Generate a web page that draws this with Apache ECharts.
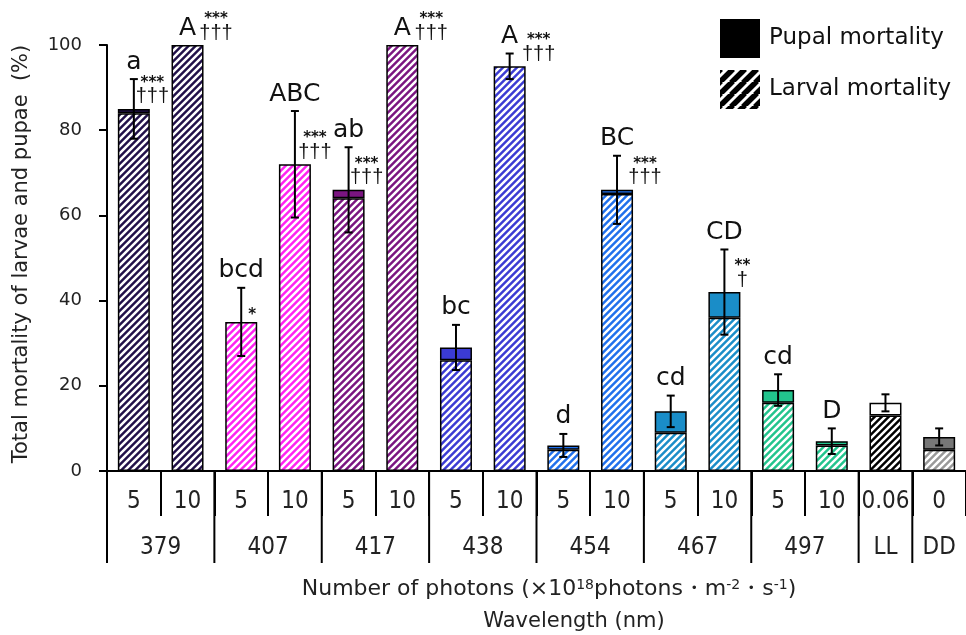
<!DOCTYPE html>
<html><head><meta charset="utf-8">
<script src="https://cdn.jsdelivr.net/npm/echarts@6/dist/echarts.min.js"></script>
<style>html,body{margin:0;padding:0;background:#fff}#c{width:966px;height:635px}</style>
</head><body><div id="c"></div>
<script>
// ---------- data ----------
const doses = ['5','10','5','10','5','10','5','10','5','10','5','10','5','10','0.06','0'];
const wavelengths = ['379','407','417','438','454','467','497','LL','DD'];
const groupSizes = [2,2,2,2,2,2,2,1,1];
const larval = [84, 100, 35, 72, 64, 100, 26, 95, 5, 65, 9, 36, 16, 6, 13, 5];
const pupal  = [1, 0, 0, 0, 2, 0, 3, 0, 1, 1, 5, 6, 3, 1, 3, 3];
const se     = [7, 0, 8, 12.5, 10, 0, 5.3, 3, 2.7, 8, 3.7, 10, 3.7, 3, 2, 2];
const letters = ['a','A','bcd','ABC','ab','A','bc','A','d','BC','cd','CD','cd','D','',''];
const stars   = ['***','***','*','***','***','***','','***','','***','','**','','','',''];
const daggers = ['†††','†††','','†††','†††','†††','','†††','','†††','','†','','','',''];

// ---------- styles ----------
const hatchColors = ['#211049','#211049','#ff22f2','#ff22f2','#7a1580','#7a1580','#3b3bd3','#3b3bd3','#2070ec','#2070ec','#1a8dc8','#1a8dc8','#22c48d','#22c48d','#000000','#999999'];
const pupalColors = ['#211049','#211049','#ff22f2','#ff22f2','#7a1580','#7a1580','#3b3bd3','#3b3bd3','#2070ec','#2070ec','#1a8dc8','#1a8dc8','#22c48d','#22c48d','#ffffff','#777777'];
const sigOffsetX = [18.5, 28.5, 11, 20, 18, 29, 0, 29, 0, 28, 0, 18, 0, 0, 0, 0];
const NARROW = '"Liberation Sans Narrow", "DejaVu Sans Condensed", "Liberation Sans"';

function hatch(bg, fg, size, lw) {
  const c = document.createElement('canvas');
  c.width = size; c.height = size;
  const g = c.getContext('2d');
  g.fillStyle = bg; g.fillRect(0, 0, size, size);
  g.strokeStyle = fg; g.lineWidth = lw;
  g.beginPath();
  for (let k = -1; k <= 1; k++) {
    g.moveTo(k * size - 1, size + 1);
    g.lineTo((k + 1) * size + 1, -1);
  }
  g.stroke();
  return { image: c, repeat: 'repeat' };
}

const totals = larval.map((v, i) => v + pupal[i]);
const groups = [];
{ let s = 0; groupSizes.forEach(n => { groups.push([s, 0, s + n - 1]); s += n; }); }

const chart = echarts.init(document.getElementById('c'), null, { renderer: 'canvas' });

function errRender(params, api) {
  const i = api.value(0), t = api.value(1), s = api.value(2);
  if (!s) return { type: 'group', children: [] };
  const hi = api.coord([i, t + s]), lo = api.coord([i, t - s]);
  const x = hi[0], w = 4;
  const st = { stroke: '#000', lineWidth: 2 };
  return { type: 'group', children: [
    { type: 'line', shape: { x1: x, y1: hi[1], x2: x, y2: lo[1] }, style: st },
    { type: 'line', shape: { x1: x - w, y1: hi[1], x2: x + w, y2: hi[1] }, style: st },
    { type: 'line', shape: { x1: x - w, y1: lo[1], x2: x + w, y2: lo[1] }, style: st }
  ]};
}

function annotRender(params, api) {
  const idx = params.dataIndex;
  const i = api.value(0), t = api.value(1), s = api.value(2);
  const top = api.coord([i, t]), e = api.coord([i, t + s]);
  const ch = [];
  if (letters[idx]) ch.push({ type: 'text', style: { text: letters[idx], x: e[0], y: e[1] - 17, align: 'center', verticalAlign: 'middle', font: '25px "DejaVu Sans"', fill: '#111' } });
  const cx = top[0] + sigOffsetX[idx];
  const starFont = 'bold 15px "DejaVu Sans"';
  if (daggers[idx]) {
    ch.push({ type: 'text', style: { text: daggers[idx], x: cx, y: top[1] - 12, align: 'center', verticalAlign: 'middle', font: '20px "Liberation Sans"', fill: '#111' } });
    if (stars[idx]) ch.push({ type: 'text', style: { text: stars[idx], x: cx, y: top[1] - 26, align: 'center', verticalAlign: 'middle', font: starFont, fill: '#111' } });
  } else if (stars[idx]) {
    ch.push({ type: 'text', style: { text: stars[idx], x: cx, y: top[1] - 7, align: 'center', verticalAlign: 'middle', font: starFont, fill: '#111' } });
  }
  return { type: 'group', children: ch };
}

function tableRender(params, api) {
  const idx = params.dataIndex;
  const s = api.value(0), e = api.value(2);
  const bw = api.size([1, 0])[0];
  const p0 = api.coord([s, 0]), p1 = api.coord([e, 0]);
  const left = p0[0] - bw / 2, right = p1[0] + bw / 2, y0 = p0[1];
  return { type: 'group', children: [
    { type: 'line', shape: { x1: left, y1: y0, x2: left, y2: y0 + 92 }, style: { stroke: '#000', lineWidth: 2 } },
    { type: 'text', style: { text: wavelengths[idx], x: (left + right) / 2, y: y0 + 77, align: 'center', verticalAlign: 'middle', font: '24px ' + NARROW, fill: '#222' } }
  ]};
}

const option = {
  animation: false,
  backgroundColor: '#fff',
  grid: { left: 107, right: 0, top: 45, bottom: 164, containLabel: false },
  legend: {
    data: ['Pupal mortality', 'Larval mortality'],
    orient: 'vertical', left: 720, top: 19, padding: 0,
    itemWidth: 40, itemHeight: 39, itemGap: 12, icon: 'rect',
    selectedMode: false,
    itemStyle: { borderWidth: 0 },
    textStyle: { fontSize: 23, fontFamily: 'DejaVu Sans', color: '#111', padding: [0, 0, 0, 4] }
  },
  xAxis: {
    type: 'category', data: doses,
    axisLine: { show: true, lineStyle: { color: '#000', width: 2 } },
    axisTick: { show: true, interval: 0, length: 45, lineStyle: { color: '#000', width: 2 } },
    axisLabel: { interval: 0, fontSize: 24, fontFamily: NARROW, color: '#222', margin: 19 },
    splitLine: { show: false }
  },
  yAxis: {
    type: 'value', min: 0, max: 100, interval: 20,
    axisLine: { show: true, lineStyle: { color: '#000', width: 2 } },
    axisTick: { show: true, length: 8, lineStyle: { color: '#000', width: 2 } },
    axisLabel: { fontSize: 18, fontFamily: 'DejaVu Sans', color: '#222', margin: 25 },
    splitLine: { show: false }
  },
  graphic: [
    { type: 'text', x: 22, y: 254, rotation: Math.PI / 2,
      style: { text: 'Total mortality of larvae and pupae  (%)', fontSize: 21, fontFamily: 'DejaVu Sans', fill: '#222', align: 'center', verticalAlign: 'middle' } },
    { type: 'text', x: 549, y: 589,
      style: { text: 'Number of photons (×10{sup|18}photons・m{sup|-2}・s{sup|-1})', fontSize: 22, fontFamily: 'DejaVu Sans', fill: '#222', align: 'center', verticalAlign: 'middle',
        rich: { sup: { fontSize: 14, fontFamily: 'DejaVu Sans', fill: '#222', verticalAlign: 'top' } } } },
    { type: 'text', x: 574, y: 622,
      style: { text: 'Wavelength (nm)', fontSize: 21, fontFamily: 'DejaVu Sans', fill: '#222', align: 'center', verticalAlign: 'middle' } }
  ],
  series: [
    { name: 'Larval mortality', type: 'bar', stack: 'm', barWidth: 32, silent: true,
      itemStyle: { color: hatch('#ffffff', '#000000', 12, 5.5), borderColor: '#000', borderWidth: 1.5 },
      data: larval.map((v, i) => ({ value: v, itemStyle: { color: hatch(hatchColors[i], '#ffffff', 7, 2.5) } })) },
    { name: 'Pupal mortality', type: 'bar', stack: 'm', barWidth: 32, silent: true,
      itemStyle: { color: '#000', borderColor: '#000', borderWidth: 1.5 },
      data: pupal.map((v, i) => ({ value: v > 0 ? v : '-', itemStyle: { color: pupalColors[i] } })) },
    { name: 'err', type: 'custom', silent: true, z: 5, renderItem: errRender,
      encode: { x: 0, y: 1 }, data: totals.map((t, i) => [i, t, se[i]]) },
    { name: 'annot', type: 'custom', silent: true, z: 6, renderItem: annotRender,
      encode: { x: 0, y: 1 }, data: totals.map((t, i) => [i, t, se[i]]) },
    { name: 'table', type: 'custom', silent: true, z: 1, renderItem: tableRender,
      encode: { x: 0, y: 1 }, data: groups }
  ]
};
chart.setOption(option);
</script></body></html>
